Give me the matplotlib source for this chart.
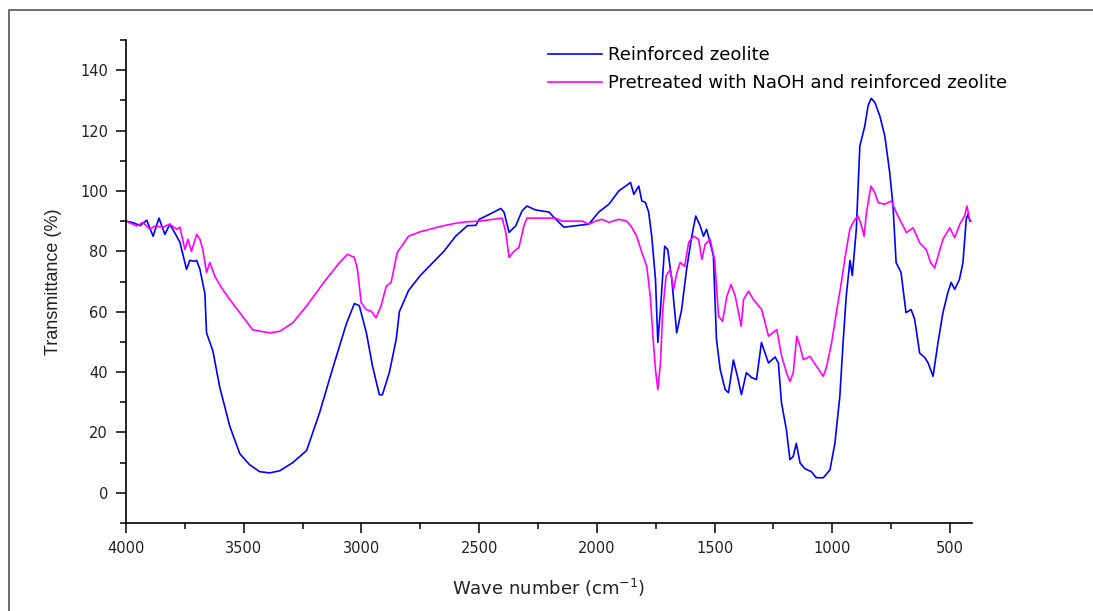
# FTIR spectra of reinforced zeolite samples
import matplotlib
matplotlib.use('Agg')
import matplotlib.pyplot as plt
from matplotlib.patches import Rectangle
from matplotlib.ticker import MultipleLocator

plt.rcParams['font.family'] = ['DejaVu Sans']

# Reinforced zeolite (blue)
wn_blue = [4000, 3970, 3940, 3912, 3885, 3860, 3835, 3814, 3792, 3771, 3743, 3729,
           3708, 3700, 3686, 3665, 3658, 3631, 3602, 3559, 3517, 3475, 3432, 3390,
           3347, 3292, 3233, 3178, 3123, 3064, 3030, 3009, 2979, 2953, 2924, 2911,
           2881, 2852, 2839, 2800, 2750, 2700, 2650, 2600, 2550, 2514, 2500, 2458,
           2408, 2394, 2373, 2345, 2318, 2297, 2260, 2203, 2182, 2140, 2076, 2034,
           1992, 1949, 1907, 1857, 1843, 1822, 1809, 1794, 1780, 1767, 1751, 1741,
           1730, 1712, 1699, 1682, 1661, 1640, 1619, 1597, 1580, 1561, 1547, 1534,
           1519, 1505, 1492, 1476, 1455, 1441, 1420, 1403, 1386, 1365, 1343, 1322,
           1301, 1271, 1243, 1229, 1216, 1195, 1180, 1166, 1153, 1137, 1116, 1089,
           1068, 1038, 1010, 989, 968, 954, 941, 925, 915, 898, 883, 862, 848, 835,
           819, 798, 777, 756, 742, 729, 708, 687, 665, 650, 629, 607, 593, 572, 551,
           530, 509, 495, 480, 460, 445, 431, 424, 415]
t_blue = [90, 89.5, 88.5, 90.3, 85, 91, 85.6, 89, 86, 83, 74, 77,
          76.7, 77, 74, 66, 53, 47, 35, 22, 13, 9.3, 7, 6.6,
          7.3, 10, 14, 26.5, 41, 56, 62.7, 62, 53, 42, 32.5, 32.5,
          40, 51, 60, 67, 72, 76, 80, 85, 88.5, 88.6, 90.6, 92.2,
          94.2, 92.9, 86.3, 88.4, 93.4, 95, 93.7, 93, 91.2, 88, 88.6, 89,
          93, 95.6, 100, 102.8, 98.9, 101.6, 96.7, 96.2, 93, 85, 70.7, 49.8,
          60.7, 81.7, 80.6, 70.7, 53, 60.7, 74, 85, 91.7, 88.4, 85, 87.3,
          82.9, 78.4, 50.8, 40.8, 34.2, 33.2, 44, 38.6, 32.5, 39.8, 38.2, 37.5,
          49.8, 43, 45, 43, 29.9, 20.9, 11, 12, 16.4, 9.9, 8, 7,
          5, 5, 7.6, 16.4, 32, 50, 65, 77, 72, 87.3, 114.9, 121.5, 128.2, 130.7,
          129.3, 124.8, 118.2, 106, 95, 76.3, 73, 59.7, 60.7, 57.4, 46.3, 44.8, 43, 38.6, 49.8,
          59.7, 66.4, 69.7, 67.4, 70.7, 76.3, 90.6, 92.2, 90]

# Pretreated with NaOH and reinforced zeolite (magenta)
wn_pink = [4000, 3955, 3928, 3898, 3877, 3843, 3814, 3785, 3771, 3750, 3737, 3722,
           3700, 3686, 3674, 3658, 3644, 3623, 3595, 3559, 3517, 3462, 3390, 3347,
           3292, 3234, 3150, 3093, 3059, 3030, 3017, 3001, 2980, 2959, 2938, 2917,
           2895, 2874, 2848, 2800, 2750, 2700, 2650, 2600, 2550, 2500, 2402, 2387,
           2373, 2352, 2331, 2310, 2297, 2175, 2148, 2063, 2034, 2006, 1979, 1949,
           1907, 1873, 1852, 1831, 1809, 1788, 1773, 1763, 1751, 1741, 1730, 1720,
           1706, 1688, 1674, 1660, 1646, 1627, 1610, 1589, 1568, 1554, 1540, 1519,
           1500, 1483, 1466, 1448, 1430, 1412, 1398, 1387, 1377, 1356, 1335, 1300,
           1271, 1236, 1215, 1194, 1180, 1166, 1151, 1137, 1123, 1095, 1067, 1038,
           1024, 1003, 982, 961, 946, 925, 904, 890, 876, 865, 855, 836, 819, 805,
           777, 749, 728, 699, 685, 657, 629, 601, 582, 565, 551, 530, 501, 480,
           459, 438, 428, 417, 410]
t_pink = [90, 88.4, 89.6, 87.3, 88.4, 88, 89, 87.3, 88, 80.6, 84, 80,
          85.6, 84, 80.6, 73, 76.3, 71.8, 68, 64, 59.7, 54, 53, 53.5,
          56.3, 61.8, 70.7, 76.3, 79, 78, 74, 63, 60.7, 60.2, 58, 61.8,
          68.4, 69.7, 79.6, 85, 86.5, 87.5, 88.5, 89.3, 89.8, 90, 91, 86.3,
          78, 80, 81.3, 88.4, 91, 91, 90, 90, 89, 90, 90.6, 89.6,
          90.6, 90, 88, 85, 79.6, 75, 65, 53, 40.8, 34.2, 43, 60.7,
          71.8, 74, 67.4, 73, 76.3, 75, 83, 85, 84, 77.3, 82.3, 84,
          77.3, 58.5, 56.8, 65.1, 69, 65.1, 59.6, 55.2, 64, 66.8, 64, 60.7,
          51.9, 54.1, 45.2, 39.7, 36.9, 39.7, 51.9, 48.5, 44.1, 45.2, 41.9, 38.6,
          41.9, 49.7, 60, 70, 78, 87.5, 90.6, 91.7, 88.4, 85, 92.8, 101.6, 99.4, 96.1,
          95.6, 96.7, 92.8, 88.4, 86.2, 87.8, 82.8, 80.6, 76.2, 74.5, 78.4, 84, 87.8, 84.5,
          88.9, 91.7, 95, 90.6, 90]

labels = ['Reinforced zeolite', 'Pretreated with NaOH and reinforced zeolite']

fig = plt.figure(figsize=(10.93, 6.11), dpi=100)
ax = fig.add_axes([0.1153, 0.144, 0.889 - 0.1153, 0.9345 - 0.144])

ax.plot(wn_blue, t_blue, color='#0000FF', lw=1.2, label=labels[0])
ax.plot(wn_pink, t_pink, color='#FF00FF', lw=1.2, label=labels[1])

ax.set_xlim(4000, 408)
ax.set_ylim(-10, 150)
ax.xaxis.set_major_locator(MultipleLocator(500))
ax.xaxis.set_minor_locator(MultipleLocator(250))
ax.yaxis.set_major_locator(MultipleLocator(20))
ax.yaxis.set_minor_locator(MultipleLocator(10))

for s in ['top', 'right']:
    ax.spines[s].set_visible(False)
for s in ['left', 'bottom']:
    ax.spines[s].set_linewidth(1.2)

ax.tick_params(which='major', direction='out', length=7, width=1.1, labelsize=10.5,
               pad=6, labelcolor='#222222')
ax.tick_params(which='minor', direction='out', length=4, width=1.1)

ax.set_xlabel('Wave number (cm$^{-1}$)', fontsize=13, labelpad=15, color='#222222')
ax.set_ylabel('Transmittance (%)', fontsize=13, labelpad=13, color='#222222',
              family=['Liberation Sans', 'DejaVu Sans'])

ax.legend(loc='upper left', bbox_to_anchor=(548 / 1093, 1 - 46 / 611),
          bbox_transform=fig.transFigure, frameon=False, fontsize=13,
          handlelength=3.0, handletextpad=0.35, labelspacing=0.55,
          borderpad=0, borderaxespad=0)

# thin frame around the figure
fig.patches.append(Rectangle((9 / 1093, -0.05), 1.1, 1 - 10 / 611 + 0.05,
                             transform=fig.transFigure, fill=False,
                             edgecolor='#555555', lw=1.2))

fig.savefig('out.png', dpi=100)
